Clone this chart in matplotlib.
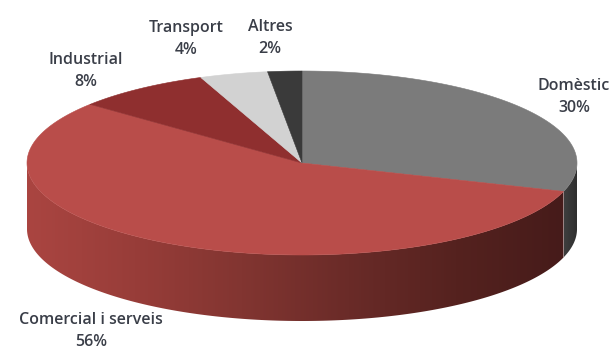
import numpy as np
import matplotlib
matplotlib.use("Agg")
import matplotlib.pyplot as plt
from matplotlib.patches import Polygon
from matplotlib.colors import LinearSegmentedColormap

categories = ["Domèstic", "Comercial i serveis", "Industrial", "Transport", "Altres"]
values = [30, 56, 8, 4, 2]
pct_labels = ["30%", "56%", "8%", "4%", "2%"]
top_colors = ["#7b7b7b", "#b94d4a", "#8f2f2f", "#d2d2d2", "#3a3a3a"]
side_cmaps = [
    ["#3e3e3e", "#2e2e2e"],
    ["#aa4541", "#983d39", "#823531", "#6a2b28", "#55221f", "#461b1a"],
    ["#6e2424", "#5a1d1d"],
    ["#a8a8a8", "#909090"],
    ["#2a2a2a", "#202020"],
]

# geometry (pixel coordinates)
cx, cy = 302, 163
a, b = 275, 92
depth = 66

fig = plt.figure(figsize=(6.14, 3.5), dpi=100)
ax = fig.add_axes([0, 0, 1, 1])
ax.set_xlim(0, 614)
ax.set_ylim(350, 0)
ax.axis("off")

total = float(sum(values))
cum = np.concatenate([[0], np.cumsum(values)]) / total * 360.0
theta1 = 90 - cum[:-1]
theta2 = 90 - cum[1:]


def ex(t):
    return cx + a * np.cos(np.radians(t))


def ey(t, off=0):
    return cy - b * np.sin(np.radians(t)) + off


# side faces (front half: angles in (-180, 0) mod 360)
for i in range(len(values)):
    lo_s, hi_s = theta2[i], theta1[i]
    for k in (-1, 0, 1):
        flo, fhi = -180 + 360 * k, 0 + 360 * k
        lo, hi = max(lo_s, flo), min(hi_s, fhi)
        if hi - lo <= 0.01:
            continue
        t = np.linspace(lo, hi, 200)
        xs = np.concatenate([ex(t), ex(t[::-1])])
        ys = np.concatenate([ey(t), ey(t[::-1], depth)])
        poly = Polygon(np.column_stack([xs, ys]), closed=True,
                       facecolor="none", edgecolor="none")
        ax.add_patch(poly)
        cmap = LinearSegmentedColormap.from_list("g%d" % i, side_cmaps[i])
        x0, x1 = xs.min(), xs.max()
        grad = np.linspace(0, 1, 256).reshape(1, -1)
        im = ax.imshow(grad, cmap=cmap, aspect="auto",
                       extent=[x0, x1, ys.max() + 1, ys.min() - 1],
                       interpolation="bilinear", zorder=1)
        im.set_clip_path(poly)

# top faces
for i in range(len(values)):
    t = np.linspace(theta1[i], theta2[i], 200)
    xs = np.concatenate([[cx], ex(t)])
    ys = np.concatenate([[cy], ey(t)])
    ax.add_patch(Polygon(np.column_stack([xs, ys]), closed=True,
                         facecolor=top_colors[i], edgecolor=top_colors[i],
                         linewidth=0.4, zorder=2))

ax.set_xlim(0, 614)
ax.set_ylim(350, 0)

# labels
label_pos = [(574, 86), (91, 320), (86, 60), (186, 28), (270, 27)]
fam = ["Open Sans", "DejaVu Sans"]
for i, (lx, ly) in enumerate(label_pos):
    ax.text(lx, ly, categories[i], ha="center", va="center",
            fontsize=11.5, color="#3a3e48", family=fam, weight="semibold")
    ax.text(lx, ly + 22, pct_labels[i], ha="center", va="center",
            fontsize=11.5, color="#3a3e48", family=fam, weight="semibold")

fig.savefig("out.png", dpi=100)
